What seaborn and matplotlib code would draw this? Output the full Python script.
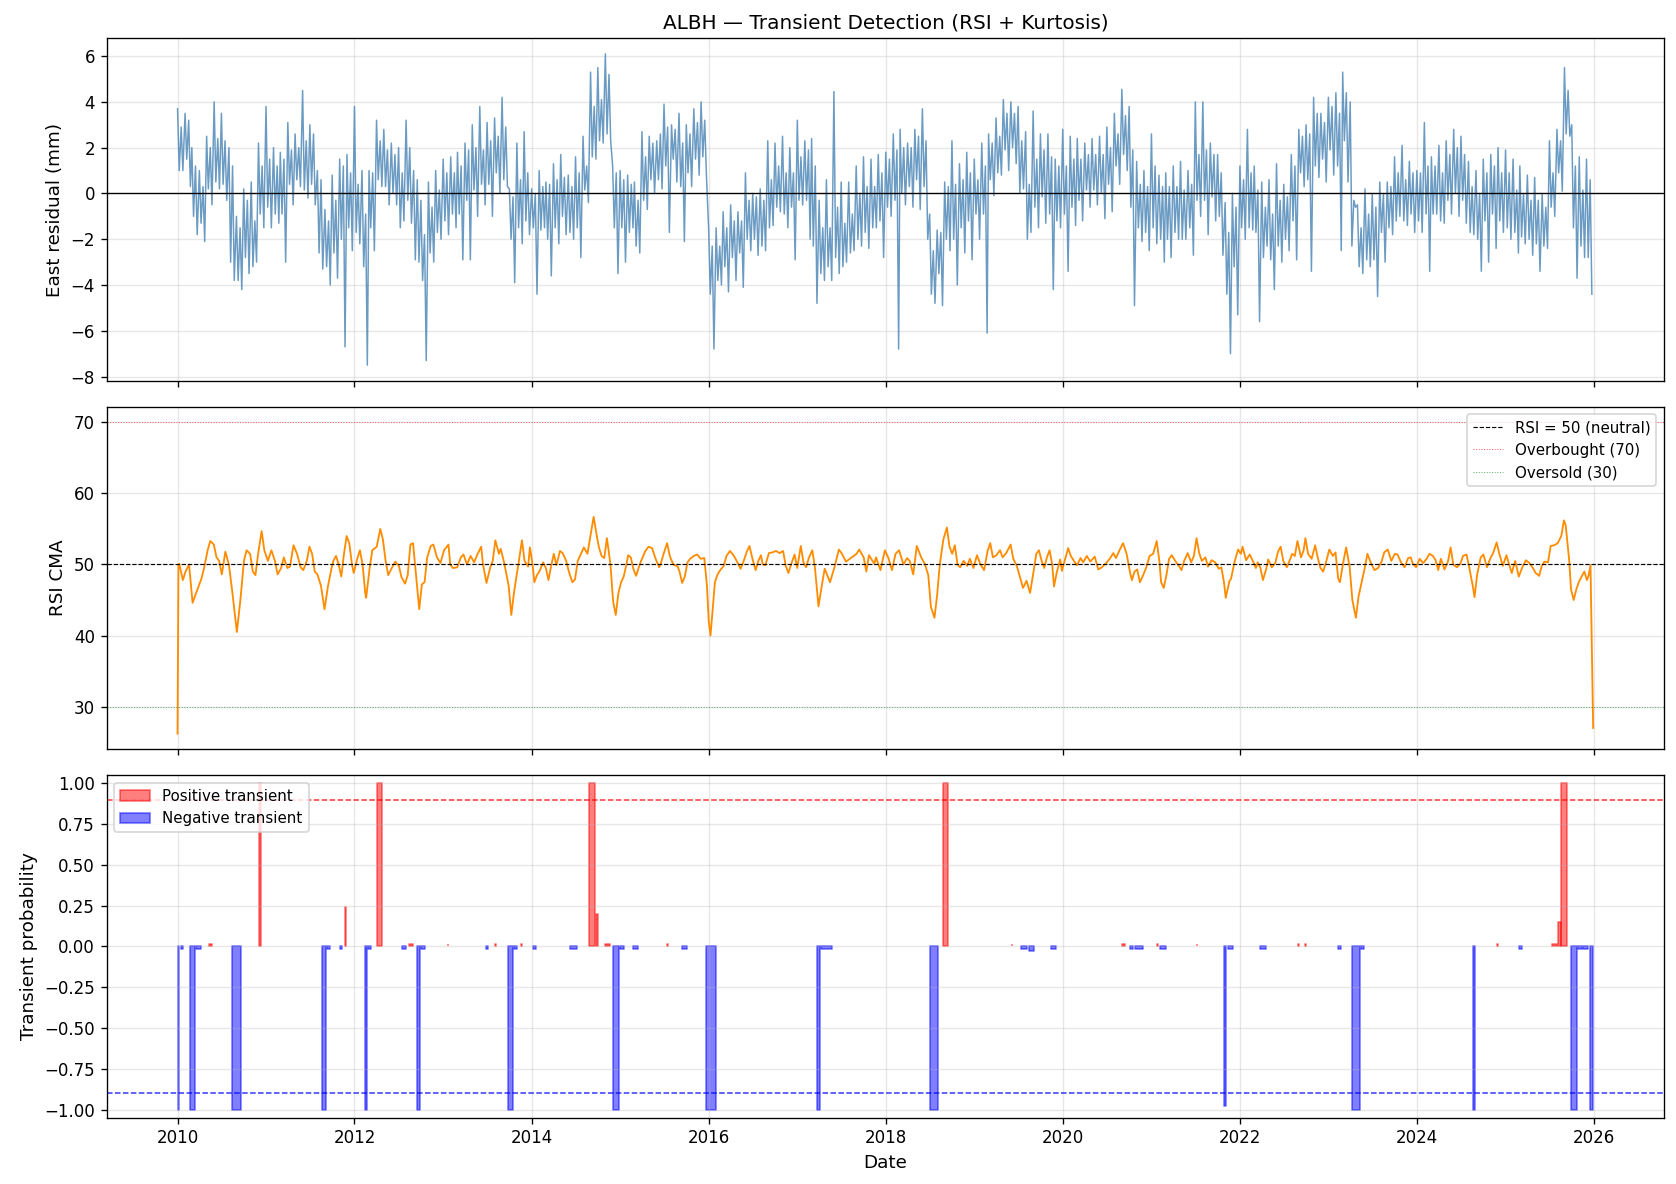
import numpy as np
import pandas as pd
import seaborn as sns
import matplotlib
matplotlib.use('Agg')
import matplotlib.pyplot as plt

# East residual (mm):
# extremes (spikes) and the dense body of the daily trace
east_hi = [
    3.7, 3.5, 2.0, 1.0, 2.5, 4.0, 3.5, 2.0, -1.0, 0.2, 0.5, 2.2,     # 2010
    3.8, 2.0, 1.8, 3.1, 2.6, 4.5, 3.0, 1.0, -0.7, 0.8, 1.5, 1.7,     # 2011
    3.8, 1.0, 1.0, 3.2, 2.8, 2.2, 2.0, 3.2, 1.0, -0.3, 0.5, 1.0,     # 2012
    1.5, 1.6, 1.8, 2.2, 3.0, 3.8, 3.1, 3.3, 4.2, 0.2, 2.2, 2.7,      # 2013
    0.2, 1.0, 0.5, 1.3, 1.7, 0.8, 1.6, 2.5, 5.3, 5.5, 6.1, 1.2,      # 2014
    1.0, 0.8, 0.5, 2.7, 2.5, 2.3, 3.9, 3.0, 3.5, 3.0, 3.7, 4.0,      # 2015
    -1.5, -1.5, -0.8, -0.5, -0.8, 0.9, 0.0, 0.2, 2.3, 2.2, 2.5, 2.0, # 2016
    3.2, 2.3, 2.4, -0.3, 0.6, 4.45, 0.5, 0.5, 1.2, 1.6, 1.5, 1.7,    # 2017
    1.8, 2.6, 2.8, 2.2, 2.8, 3.7, -0.9, -1.6, 0.5, 2.3, 1.3, 1.8,    # 2018
    1.5, 2.2, 2.6, 3.3, 4.1, 4.0, 3.8, 2.7, 3.6, 2.6, 2.6, 1.5,      # 2019
    2.8, 2.5, 2.4, 2.2, 2.4, 2.5, 2.9, 3.5, 4.55, 3.8, 1.4, 1.0,     # 2020
    2.6, 0.8, 0.9, 1.2, 1.4, 1.0, 4.0, 4.0, 2.2, 1.7, -0.4, 0.0,     # 2021
    1.2, 2.8, 1.2, 0.5, 0.6, 1.3, 0.4, 1.7, 2.8, 3.0, 4.2, 3.5,      # 2022
    4.2, 4.4, 5.3, 4.0, -0.5, 0.2, 0.0, 0.5, 0.5, 1.6, 2.1, 1.4,     # 2023
    1.0, 3.1, 1.6, 2.1, 2.3, 2.8, 2.5, 1.4, 1.0, 1.5, 1.7, 2.0,      # 2024
    1.9, 1.5, 1.2, 0.8, 0.7, 0.0, 2.3, 2.8, 5.5, 3.0, 1.6, 1.5,      # 2025
]
east_lo = [
    1.0, 0.3, -1.8, -2.1, -0.5, 0.2, -0.3, -3.8, -4.2, -3.5, -3.0, -1.5,     # 2010
    -1.5, -1.3, -3.0, -0.5, 0.3, -0.2, -0.5, -3.3, -4.0, -3.7, -6.7, -2.5,   # 2011
    -2.2, -7.5, -2.5, 0.3, -0.5, -0.5, -1.2, -1.3, -3.0, -7.3, -3.0, -2.0,   # 2012
    -1.8, -1.5, -2.9, -2.9, -1.0, -0.5, -1.0, 0.0, 0.3, -3.9, -2.2, -1.8,    # 2013
    -4.4, -1.5, -3.6, -2.2, -1.8, -2.0, -2.8, -0.4, 1.5, 2.2, 2.3, -3.5,     # 2014
    -3.0, -1.5, -2.6, -0.7, 0.0, 0.2, -1.7, 0.5, -2.1, 0.3, 0.8, 0.8,        # 2015
    -6.8, -4.0, -4.3, -3.8, -4.1, -2.5, -2.7, -2.5, -1.4, -0.8, -1.5, -2.9,  # 2016
    -0.5, -2.0, -4.8, -3.8, -3.8, -3.5, -3.0, -2.5, -2.3, -2.4, -1.5, -2.8,  # 2017
    -1.0, -6.8, -0.5, -0.6, -0.7, -2.0, -4.8, -4.9, -2.5, -4.0, -2.6, -2.9,  # 2018
    -2.0, -6.1, -0.1, 0.8, 1.0, 1.3, 0.2, -1.7, -1.5, -1.3, -4.2, -1.5,      # 2019
    -3.4, -1.4, -1.2, -0.6, -0.5, -1.1, -0.8, 0.4, 1.0, -4.9, -2.1, -2.5,    # 2020
    -2.2, -3.0, -2.8, -2.0, -2.0, -2.7, -1.0, -1.8, -1.2, -2.7, -7.0, -5.3,  # 2021
    -2.0, -1.6, -5.6, -2.3, -4.2, -3.0, -2.5, -2.9, 0.3, -3.4, 0.7, 0.5,     # 2022
    0.8, -2.5, 0.5, -0.6, -3.5, -3.2, -4.5, -3.0, -1.8, -1.0, -1.4, -1.7,    # 2023
    -1.7, -3.4, -0.9, -1.3, -0.9, -1.0, -1.3, -1.8, -3.4, -3.0, -2.4, -1.7,  # 2024
    -2.0, -2.6, -2.2, -2.7, -3.4, -2.4, -1.0, 0.1, 2.5, -3.7, -2.8, -4.4,    # 2025
]
body_hi = [
    2.9, 3.2, 1.2, 0.3, 2.0, 2.4, 2.3, 1.2, -1.5, -0.3, -1.2, 1.2,     # 2010
    1.5, 1.2, 1.5, 1.9, 2.0, 2.3, 2.6, 0.6, -1.2, -0.3, 1.2, 0.9,      # 2011
    0.4, -0.9, 0.9, 2.3, 1.9, 1.7, 0.9, 2.0, 0.6, -1.8, -0.6, 0.15,    # 2012
    0.9, 0.9, 1.2, 1.9, 2.0, 1.9, 2.3, 2.5, 2.9, -0.15, 0.6, 0.9,      # 2013
    0.0, 0.3, 0.4, 0.6, 0.7, 0.3, 0.9, 1.2, 3.8, 4.1, 5.2, 0.9,        # 2014
    0.6, 0.4, -0.3, 1.6, 2.2, 2.6, 2.9, 2.8, 2.2, 2.6, 3.1, 3.2,       # 2015
    -2.3, -2.3, -1.5, -1.2, -1.2, -0.3, -0.15, -0.3, 0.6, 1.2, 0.9, 0.9,  # 2016
    1.6, 1.9, 1.2, -1.5, -1.5, -0.6, -1.3, -0.9, 0.0, 0.3, 0.3, 0.9,   # 2017
    1.5, 1.9, 2.0, 2.0, 2.5, 2.3, -2.5, -1.7, 0.3, 0.4, 0.6, 0.9,      # 2018
    0.6, 1.2, 2.2, 2.5, 3.5, 3.5, 2.3, 0.4, 1.5, 1.9, 1.6, 1.2,        # 2019
    1.2, 1.5, 1.5, 1.7, 1.7, 1.7, 2.0, 2.6, 3.4, 1.9, 0.4, 0.3,        # 2020
    1.2, 0.3, 0.3, 0.3, 0.15, 0.4, 1.7, 1.9, 1.7, 0.9, -1.7, -0.6,     # 2021
    0.6, 0.9, 0.15, -0.6, -0.9, -0.3, -0.15, 1.2, 2.5, 2.6, 3.5, 3.1,  # 2022
    3.8, 3.5, 4.4, -0.3, -1.5, -0.9, -0.6, 0.0, 0.3, 0.9, 0.6, 0.9,    # 2023
    0.9, 1.2, 1.2, 0.9, 1.7, 2.0, 1.7, 0.3, 0.0, 0.9, 1.2, 0.9,        # 2024
    0.9, 0.15, 0.0, -0.3, -0.3, -0.6, 0.9, 2.3, 4.5, 1.2, 0.15, 0.6,   # 2025
]
body_lo = [
    1.0, 1.5, -1.0, -1.3, 0.2, 0.5, 0.4, -3.0, -3.8, -2.8, -3.2, -0.9,     # 2010
    -0.6, -0.9, -0.9, 0.4, 0.6, 0.15, 0.4, -2.6, -3.2, -2.6, -2.0, -1.5,   # 2011
    -1.7, -3.2, -1.5, 0.6, 0.3, 0.0, -1.5, -0.3, -2.9, -3.8, -2.6, -1.7,   # 2012
    -1.2, -0.9, -0.9, -0.3, 0.15, 0.4, 0.4, 0.9, 0.6, -2.0, -1.5, -1.2,    # 2013
    -1.5, -1.6, -2.0, -1.5, -1.0, -1.7, -1.5, 0.15, 1.6, 2.3, 2.6, -1.5,   # 2014
    -1.5, -1.7, -2.3, -0.3, 0.6, 0.6, 1.2, 1.5, 0.3, 0.9, 1.5, 1.6,        # 2015
    -4.4, -3.8, -3.2, -2.8, -2.6, -2.0, -2.0, -2.3, -1.5, -0.6, -0.9, -0.6,  # 2016
    -0.3, -0.3, -2.3, -3.5, -3.2, -2.8, -3.2, -2.6, -2.0, -1.7, -1.5, -1.2,  # 2017
    -0.6, -0.3, 0.0, 0.3, 0.6, 0.3, -4.4, -3.5, -2.0, -2.0, -1.5, -1.2,    # 2018
    -0.9, -0.9, 0.6, 0.9, 1.9, 2.0, 0.0, -2.0, -0.6, -0.15, -0.9, -1.2,    # 2019
    -0.9, -0.6, -0.3, 0.15, 0.15, 0.0, 0.4, 1.2, 1.7, -0.6, -1.5, -1.7,    # 2020
    -1.5, -2.0, -2.0, -1.7, -2.0, -1.5, -0.3, -0.3, -0.15, -1.0, -4.4, -3.2,  # 2021
    -1.5, -1.5, -1.7, -2.8, -2.9, -2.3, -2.0, -1.2, 0.9, 0.6, 1.2, 1.5,    # 2022
    1.9, 1.2, 2.3, -2.3, -3.2, -2.9, -2.9, -1.7, -1.5, -1.2, -1.2, -0.9,   # 2023
    -1.2, -0.9, -0.9, -1.2, -0.3, 0.0, -0.3, -1.7, -2.0, -1.2, -0.9, -1.2, # 2024
    -1.5, -1.7, -1.9, -2.0, -2.2, -2.3, -0.6, 0.9, 2.6, -1.5, -2.3, -2.8,  # 2025
]

# RSI CMA (decimal year, value)
rsi_t = [
    2010.00, 2010.01, 2010.02, 2010.06, 2010.09, 2010.13, 2010.17, 2010.21, 2010.27, 2010.30,
    2010.34, 2010.37, 2010.41, 2010.44, 2010.47, 2010.50, 2010.54, 2010.58, 2010.62, 2010.67,
    2010.71, 2010.75, 2010.78, 2010.82, 2010.85, 2010.88, 2010.91, 2010.95, 2010.98, 2011.02,
    2011.06, 2011.10, 2011.13, 2011.17, 2011.20, 2011.24, 2011.27, 2011.31, 2011.35, 2011.39,
    2011.42, 2011.46, 2011.49, 2011.52, 2011.55, 2011.58, 2011.62, 2011.66, 2011.70, 2011.74,
    2011.76, 2011.79, 2011.82, 2011.85, 2011.88, 2011.91, 2011.94, 2011.97, 2011.99, 2012.03,
    2012.06, 2012.09, 2012.12, 2012.13, 2012.17, 2012.20, 2012.25, 2012.29, 2012.32, 2012.35,
    2012.38, 2012.42, 2012.46, 2012.50, 2012.53, 2012.57, 2012.60, 2012.63, 2012.66, 2012.69,
    2012.73, 2012.76, 2012.79, 2012.82, 2012.86, 2012.89, 2012.93, 2012.97, 2013.01, 2013.06,
    2013.08, 2013.11, 2013.16, 2013.20, 2013.23, 2013.27, 2013.31, 2013.35, 2013.39, 2013.43,
    2013.45, 2013.49, 2013.53, 2013.56, 2013.59, 2013.63, 2013.65, 2013.69, 2013.74, 2013.77,
    2013.80, 2013.83, 2013.85, 2013.89, 2013.92, 2013.96, 2013.98, 2014.01, 2014.03, 2014.06,
    2014.09, 2014.13, 2014.16, 2014.19, 2014.22, 2014.25, 2014.28, 2014.32, 2014.35, 2014.39,
    2014.42, 2014.46, 2014.49, 2014.52, 2014.56, 2014.59, 2014.63, 2014.66, 2014.70, 2014.74,
    2014.76, 2014.79, 2014.82, 2014.85, 2014.89, 2014.92, 2014.95, 2014.98, 2015.01, 2015.04,
    2015.07, 2015.09, 2015.12, 2015.15, 2015.18, 2015.21, 2015.24, 2015.28, 2015.32, 2015.36,
    2015.40, 2015.44, 2015.46, 2015.49, 2015.53, 2015.56, 2015.60, 2015.65, 2015.67, 2015.70,
    2015.73, 2015.76, 2015.79, 2015.83, 2015.87, 2015.91, 2015.95, 2015.98, 2016.00, 2016.02,
    2016.04, 2016.07, 2016.10, 2016.13, 2016.17, 2016.20, 2016.24, 2016.28, 2016.32, 2016.36,
    2016.39, 2016.43, 2016.46, 2016.50, 2016.53, 2016.56, 2016.59, 2016.61, 2016.64, 2016.68,
    2016.72, 2016.76, 2016.80, 2016.84, 2016.87, 2016.90, 2016.93, 2016.97, 2017.00, 2017.04,
    2017.07, 2017.10, 2017.13, 2017.17, 2017.20, 2017.24, 2017.27, 2017.31, 2017.37, 2017.42,
    2017.47, 2017.50, 2017.55, 2017.67, 2017.70, 2017.75, 2017.78, 2017.81, 2017.87, 2017.89,
    2017.94, 2017.99, 2018.03, 2018.07, 2018.11, 2018.15, 2018.20, 2018.24, 2018.27, 2018.31,
    2018.35, 2018.40, 2018.44, 2018.48, 2018.51, 2018.55, 2018.58, 2018.61, 2018.65, 2018.69,
    2018.72, 2018.75, 2018.78, 2018.81, 2018.84, 2018.88, 2018.92, 2018.95, 2018.99, 2019.03,
    2019.07, 2019.11, 2019.15, 2019.18, 2019.21, 2019.25, 2019.29, 2019.32, 2019.36, 2019.41,
    2019.44, 2019.48, 2019.52, 2019.55, 2019.59, 2019.63, 2019.66, 2019.70, 2019.73, 2019.76,
    2019.79, 2019.82, 2019.85, 2019.88, 2019.90, 2019.93, 2019.97, 2019.99, 2020.02, 2020.06,
    2020.09, 2020.13, 2020.16, 2020.20, 2020.23, 2020.27, 2020.31, 2020.36, 2020.40, 2020.44,
    2020.49, 2020.53, 2020.57, 2020.60, 2020.64, 2020.68, 2020.72, 2020.76, 2020.78, 2020.81,
    2020.84, 2020.87, 2020.90, 2020.94, 2020.98, 2021.02, 2021.06, 2021.09, 2021.11, 2021.14,
    2021.17, 2021.20, 2021.23, 2021.27, 2021.31, 2021.34, 2021.37, 2021.41, 2021.45, 2021.48,
    2021.51, 2021.54, 2021.57, 2021.61, 2021.64, 2021.68, 2021.72, 2021.76, 2021.79, 2021.82,
    2021.84, 2021.88, 2021.90, 2021.94, 2021.98, 2022.01, 2022.03, 2022.07, 2022.11, 2022.15,
    2022.18, 2022.20, 2022.23, 2022.26, 2022.30, 2022.32, 2022.36, 2022.40, 2022.43, 2022.46,
    2022.49, 2022.53, 2022.56, 2022.59, 2022.62, 2022.65, 2022.69, 2022.72, 2022.74, 2022.77,
    2022.81, 2022.85, 2022.88, 2022.91, 2022.94, 2022.97, 2023.01, 2023.05, 2023.08, 2023.11,
    2023.13, 2023.17, 2023.20, 2023.24, 2023.27, 2023.31, 2023.34, 2023.38, 2023.41, 2023.44,
    2023.48, 2023.52, 2023.56, 2023.60, 2023.63, 2023.67, 2023.71, 2023.75, 2023.78, 2023.82,
    2023.86, 2023.90, 2023.93, 2023.95, 2023.99, 2024.03, 2024.07, 2024.11, 2024.14, 2024.18,
    2024.21, 2024.24, 2024.27, 2024.31, 2024.35, 2024.38, 2024.41, 2024.45, 2024.49, 2024.52,
    2024.56, 2024.59, 2024.63, 2024.65, 2024.68, 2024.72, 2024.75, 2024.79, 2024.83, 2024.86,
    2024.90, 2024.93, 2024.97, 2025.01, 2025.05, 2025.07, 2025.11, 2025.15, 2025.19, 2025.23,
    2025.27, 2025.31, 2025.34, 2025.38, 2025.41, 2025.44, 2025.48, 2025.51, 2025.55, 2025.59,
    2025.63, 2025.66, 2025.68, 2025.72, 2025.74, 2025.77, 2025.80, 2025.83, 2025.86, 2025.89,
    2025.92, 2025.94, 2025.96, 2025.99,
]
rsi_v = [
    26.2, 50.0, 50.1, 47.8, 49.0, 50.0, 44.6, 46.0, 48.0, 49.5,
    52.0, 53.3, 52.8, 51.0, 50.5, 48.6, 51.8, 50.0, 46.0, 40.5,
    45.0, 50.5, 52.0, 51.5, 49.0, 48.5, 51.5, 54.7, 52.0, 50.5,
    52.0, 50.5, 48.6, 49.5, 51.0, 49.5, 49.7, 52.7, 51.5, 49.6,
    49.2, 50.5, 52.5, 51.5, 49.0, 48.6, 47.0, 43.7, 47.0, 49.5,
    50.5, 51.2, 50.0, 48.3, 51.5, 54.0, 53.0, 50.0, 48.8, 50.8,
    52.0, 50.0, 46.0, 45.3, 49.5, 52.0, 52.5, 55.0, 53.5, 50.5,
    48.5, 49.5, 50.4, 49.8, 48.2, 47.3, 48.5, 52.8, 53.0, 49.0,
    43.7, 47.2, 47.5, 51.0, 52.6, 52.8, 51.0, 50.2, 52.0, 52.8,
    50.0, 49.5, 49.6, 51.0, 51.4, 50.0, 51.2, 50.3, 51.5, 52.5,
    50.0, 47.4, 49.5, 50.5, 53.4, 51.5, 52.2, 50.2, 47.0, 42.9,
    46.0, 48.5, 50.0, 53.4, 50.5, 49.7, 52.4, 50.0, 47.5, 48.5,
    49.1, 50.3, 49.5, 47.8, 49.8, 51.5, 49.9, 51.9, 51.6, 50.5,
    49.0, 47.5, 47.9, 50.5, 51.6, 52.4, 51.5, 53.7, 56.7, 53.7,
    52.4, 51.2, 50.9, 53.7, 50.0, 44.8, 42.9, 46.0, 47.5, 48.3,
    50.0, 51.3, 51.0, 49.3, 48.4, 49.6, 50.6, 51.8, 52.5, 52.3,
    50.8, 49.6, 50.2, 51.5, 53.0, 51.2, 50.0, 49.7, 49.0, 47.4,
    48.3, 50.3, 50.8, 51.2, 51.4, 50.8, 50.9, 47.0, 42.0, 40.0,
    43.0, 47.5, 48.6, 49.2, 49.8, 51.2, 51.9, 51.3, 50.4, 49.4,
    50.3, 51.8, 52.6, 50.5, 49.2, 50.5, 51.3, 50.0, 49.9, 51.6,
    51.7, 51.9, 51.6, 51.9, 49.8, 48.8, 50.0, 51.4, 49.5, 52.6,
    50.3, 49.6, 50.9, 52.0, 49.5, 44.1, 46.5, 49.4, 47.5, 49.6,
    52.1, 51.6, 50.4, 51.5, 52.1, 51.0, 49.0, 51.3, 50.1, 51.0,
    49.2, 52.0, 50.9, 49.2, 51.5, 52.0, 50.0, 50.9, 50.5, 48.6,
    52.6, 51.0, 50.1, 48.5, 44.0, 42.5, 45.7, 50.0, 53.5, 55.2,
    52.5, 51.5, 52.7, 50.0, 49.6, 50.5, 49.8, 50.8, 49.5, 51.3,
    50.0, 49.2, 51.9, 53.0, 51.0, 51.3, 52.0, 51.0, 51.6, 52.8,
    50.8, 49.8, 48.0, 46.7, 47.7, 46.0, 48.3, 51.5, 52.0, 50.5,
    49.5, 51.0, 52.0, 50.0, 46.9, 48.8, 50.7, 49.1, 50.5, 52.3,
    51.2, 50.4, 49.9, 50.9, 50.3, 51.2, 50.4, 51.1, 49.3, 49.6,
    50.2, 50.8, 51.6, 50.9, 52.0, 53.0, 51.5, 48.8, 47.8, 49.0,
    49.3, 47.5, 48.3, 49.5, 51.2, 51.5, 53.3, 50.5, 47.5, 46.7,
    48.5, 50.8, 51.3, 50.5, 49.8, 49.2, 50.5, 51.6, 50.3, 51.2,
    53.7, 51.6, 50.5, 51.0, 49.7, 50.6, 50.3, 49.4, 49.6, 47.5,
    45.3, 47.6, 48.0, 50.4, 52.1, 51.5, 52.5, 50.6, 51.4, 50.4,
    49.5, 50.3, 49.6, 47.8, 49.5, 50.7, 49.6, 50.2, 51.8, 52.5,
    50.5, 49.6, 50.5, 51.5, 51.2, 53.3, 51.0, 52.0, 53.7, 51.5,
    50.8, 52.7, 50.9, 49.5, 49.0, 50.2, 52.1, 51.2, 51.7, 48.0,
    47.5, 50.5, 52.4, 49.6, 45.0, 42.5, 45.5, 47.8, 49.5, 51.5,
    50.2, 49.2, 49.5, 50.4, 51.7, 52.1, 50.5, 51.5, 51.4, 50.3,
    49.6, 50.9, 51.0, 50.2, 49.6, 50.8, 50.2, 50.8, 51.5, 51.2,
    50.6, 49.2, 50.8, 49.3, 50.4, 52.4, 50.0, 49.6, 50.1, 51.2,
    51.4, 49.6, 47.0, 45.4, 48.6, 51.0, 51.4, 49.6, 50.9, 51.6,
    53.1, 51.5, 49.8, 51.3, 49.6, 48.8, 50.5, 48.3, 49.6, 50.6,
    50.2, 49.5, 48.8, 48.4, 49.8, 50.4, 50.3, 52.6, 52.7, 53.0,
    54.0, 56.2, 55.5, 50.5, 46.5, 45.0, 46.5, 47.6, 48.3, 49.0,
    47.8, 48.5, 49.9, 27.0,
]

# transient episodes: start year, end year, probability
pos_start = [2010.92, 2011.89, 2012.25, 2014.65, 2014.725, 2018.65, 2025.59, 2025.63,
             2010.35, 2012.62, 2013.05, 2013.59, 2013.88, 2014.83, 2015.53, 2019.42,
             2020.67, 2021.06, 2021.51, 2022.66, 2022.74, 2024.90, 2025.52]
pos_end = [2010.945, 2011.90, 2012.31, 2014.72, 2014.745, 2018.70, 2025.625, 2025.69,
           2010.39, 2012.66, 2013.06, 2013.60, 2013.89, 2014.88, 2015.54, 2019.43,
           2020.70, 2021.07, 2021.52, 2022.67, 2022.75, 2024.91, 2025.585]
pos_prob = [1.0, 0.24, 1.0, 1.0, 0.2, 1.0, 0.15, 1.0,
            0.015, 0.015, 0.015, 0.015, 0.015, 0.015, 0.015, 0.015,
            0.015, 0.015, 0.015, 0.015, 0.015, 0.015, 0.015]

neg_start = [2010.00, 2010.14, 2010.61, 2011.63, 2012.12, 2012.70, 2013.73, 2014.92,
             2015.97, 2017.22, 2018.50, 2021.82, 2023.27, 2024.63, 2025.74, 2025.95,
             2010.04, 2010.21, 2011.69, 2011.84, 2012.15, 2012.54, 2012.75, 2013.48,
             2013.80, 2014.01, 2014.43, 2015.00, 2015.15, 2015.70, 2017.27, 2019.53,
             2019.62, 2019.87, 2020.76, 2020.82, 2021.10, 2021.86, 2022.23, 2023.11,
             2023.37, 2025.15, 2025.82, 2025.88]
neg_end = [2010.02, 2010.20, 2010.72, 2011.68, 2012.14, 2012.74, 2013.79, 2014.99,
           2016.08, 2017.26, 2018.59, 2021.84, 2023.36, 2024.65, 2025.81, 2025.99,
           2010.06, 2010.27, 2011.72, 2011.86, 2012.18, 2012.58, 2012.80, 2013.51,
           2013.83, 2014.05, 2014.51, 2015.04, 2015.20, 2015.75, 2017.39, 2019.60,
           2019.67, 2019.92, 2020.79, 2020.90, 2021.17, 2021.92, 2022.29, 2023.14,
           2023.40, 2025.19, 2025.86, 2025.93]
neg_prob = [-1.0, -1.0, -1.0, -1.0, -1.0, -1.0, -1.0, -1.0,
            -1.0, -1.0, -1.0, -0.98, -1.0, -1.0, -1.0, -1.0,
            -0.015, -0.015, -0.015, -0.015, -0.015, -0.015, -0.015, -0.015,
            -0.015, -0.015, -0.015, -0.015, -0.015, -0.015, -0.015, -0.015,
            -0.03, -0.015, -0.015, -0.015, -0.015, -0.015, -0.015, -0.015,
            -0.015, -0.015, -0.015, -0.015]


def to_dates(years):
    years = np.asarray(years, dtype=float)
    return pd.Timestamp('2010-01-01') + pd.to_timedelta((years - 2010) * 365.25, unit='D')


def episodes(starts, ends, probs):
    order = np.argsort(starts)
    xs, ys = [], []
    for i in order:
        xs += [starts[i], starts[i], ends[i], ends[i]]
        ys += [0.0, probs[i], probs[i], 0.0]
    return to_dates(xs), np.array(ys)


# four readings per month -> dense trace
east_dates, east_vals = [], []
for k in range(len(east_hi)):
    yr, mo = 2010 + k // 12, k % 12 + 1
    east_dates += [pd.Timestamp(yr, mo, d) for d in (1, 8, 16, 23)]
    east_vals += [east_hi[k], body_lo[k], body_hi[k], east_lo[k]]

rsi_dates = to_dates(rsi_t)
pos_x, pos_y = episodes(pos_start, pos_end, pos_prob)
neg_x, neg_y = episodes(neg_start, neg_end, neg_prob)

fig, (ax1, ax2, ax3) = plt.subplots(3, 1, figsize=(1676 / 120, 1184 / 120), dpi=120, sharex=True)
fig.subplots_adjust(left=0.0637, right=0.9928, top=0.9677, bottom=0.056, hspace=0.076)

# panel 1: residual
sns.lineplot(x=east_dates, y=east_vals, ax=ax1, color='steelblue', lw=0.9, alpha=0.8)
ax1.axhline(0, color='black', lw=0.8)
ax1.set_ylabel('East residual (mm)', fontsize=11)
ax1.set_title('ALBH — Transient Detection (RSI + Kurtosis)', fontsize=12)
ax1.grid(True, alpha=0.3)

# panel 2: RSI
sns.lineplot(x=rsi_dates, y=rsi_v, ax=ax2, color='darkorange', lw=1.1)
ax2.axhline(50, color='black', ls='--', lw=0.7, label='RSI = 50 (neutral)')
ax2.axhline(70, color='red', ls=':', lw=0.6, alpha=0.6, label='Overbought (70)')
ax2.axhline(30, color='green', ls=':', lw=0.6, alpha=0.6, label='Oversold (30)')
ax2.set_ylabel('RSI CMA', fontsize=11)
ax2.legend(loc='upper right', fontsize=9)
ax2.grid(True, alpha=0.3)

# panel 3: transient probability
ax3.fill_between(pos_x, 0, pos_y, where=pos_y != 0, color='red', alpha=0.5, label='Positive transient')
ax3.fill_between(neg_x, 0, neg_y, where=neg_y != 0, color='blue', alpha=0.5, label='Negative transient')
ax3.axhline(0.9, color='red', ls='--', lw=0.9, alpha=0.8)
ax3.axhline(-0.9, color='blue', ls='--', lw=0.9, alpha=0.8)
ax3.set_ylim(-1.05, 1.05)
ax3.set_ylabel('Transient probability', fontsize=11)
ax3.set_xlabel('Date', fontsize=11)
ax3.legend(loc='upper left', fontsize=9)
ax3.grid(True, alpha=0.3)

fig.savefig('out.png', dpi=120)
